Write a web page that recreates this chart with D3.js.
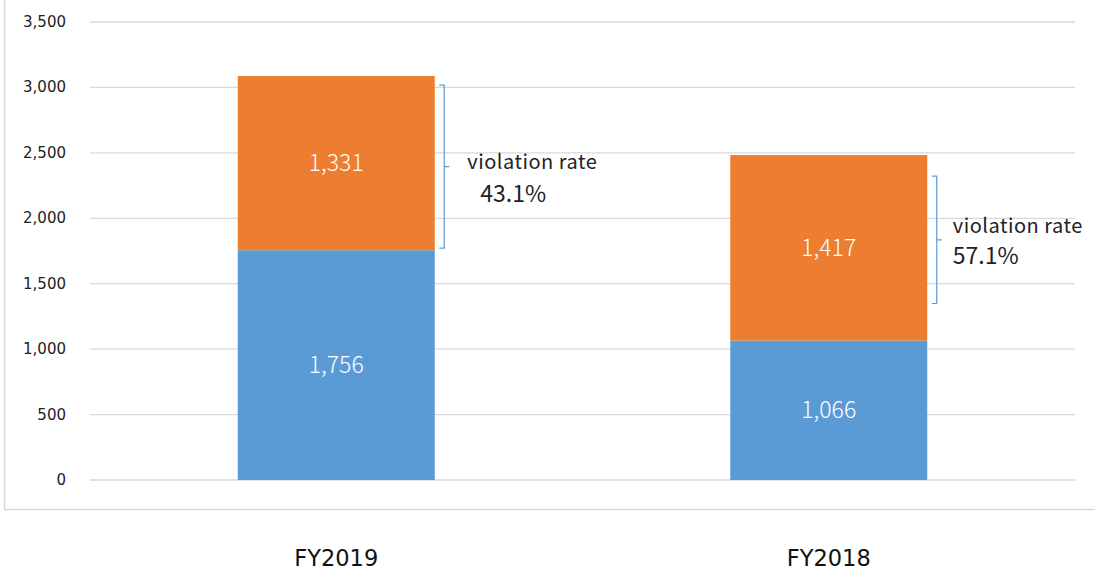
<html>
<head>
<script src="https://d3js.org/d3.v7.min.js"></script>
<style>
body { margin: 0; background: #fff; }
</style>
</head>
<body>
<script>
const years = ["FY2019", "FY2018"];
const compliant = [1756, 1066];
const violations = [1331, 1417];
const rates = ["43.1%", "57.1%"];
const yTicks = [0, 500, 1000, 1500, 2000, 2500, 3000, 3500];

const width = 1095, height = 571;
const svg = d3.select("body").append("svg")
    .attr("width", width).attr("height", height);

// chart frame
svg.append("path")
    .attr("d", "M4.5,0 V509.5 H1095")
    .attr("fill", "none")
    .attr("stroke", "#d9d9d9")
    .attr("stroke-width", 1.5);

let x = d3.scaleBand().domain(years).range([90, 1075]).paddingInner(0.6).paddingOuter(0.3);
let y = d3.scaleLinear().domain([0, 3500]).range([480, 22]);

svg.append("g").selectAll("line")
    .data(yTicks)
    .enter().append("line")
    .attr("x1", 90).attr("x2", 1075)
    .attr("y1", d => y(d)).attr("y2", d => y(d))
    .attr("stroke", "#d9d9d9")
    .attr("stroke-width", 1.3);

svg.append("g").selectAll("text")
    .data(yTicks)
    .enter().append("text")
    .attr("x", 66)
    .attr("y", d => y(d) + 5)
    .attr("text-anchor", "end")
    .attr("font-family", "DejaVu Sans")
    .attr("font-size", "15px")
    .attr("fill", "#222")
    .text(d => d3.format(",")(d));

let rows = years.map((k, i) => ({ year: k, a: compliant[i], b: violations[i], rate: rates[i] }));

let bars = svg.append("g").selectAll("g")
    .data(rows)
    .enter().append("g");

bars.append("rect")
    .attr("x", d => x(d.year))
    .attr("width", x.bandwidth())
    .attr("y", d => y(d.a))
    .attr("height", d => y(0) - y(d.a))
    .attr("fill", "#5b9bd5");
bars.append("rect")
    .attr("x", d => x(d.year))
    .attr("width", x.bandwidth())
    .attr("y", d => y(d.a + d.b))
    .attr("height", d => y(d.a) - y(d.a + d.b))
    .attr("fill", "#ed7d31");

bars.append("text")
    .attr("x", d => x(d.year) + x.bandwidth() / 2)
    .attr("y", d => y(d.a / 2) + 8)
    .text(d => d3.format(",")(d.a));
bars.append("text")
    .attr("x", d => x(d.year) + x.bandwidth() / 2)
    .attr("y", d => y(d.a + d.b / 2) + 8)
    .text(d => d3.format(",")(d.b));
bars.selectAll("text")
    .attr("text-anchor", "middle")
    .attr("font-family", "Noto Sans CJK JP")
    .attr("font-weight", 300)
    .attr("font-size", "23px")
    .attr("fill", "#fff");

// category labels
svg.append("g").selectAll("text")
    .data(years)
    .enter().append("text")
    .attr("x", d => x(d) + x.bandwidth() / 2)
    .attr("y", 566)
    .attr("text-anchor", "middle")
    .attr("font-family", "DejaVu Sans")
    .attr("font-size", "22.5px")
    .attr("fill", "#111")
    .text(d => d);

// brackets beside the orange segment
let insets = [[9, 2], [21, 37]];
let textDx = [[23, 36], [16, 16]];
let textDy = [[2.5, 35.5], [-7, 24]];
rows.forEach(function(d, i) {
    let bx = x(d.year) + x.bandwidth() + 9.5;
    let top = y(d.a + d.b) + insets[i][0];
    let bot = y(d.a) - insets[i][1];
    let mid = (top + bot) / 2;
    svg.append("path")
        .attr("d", `M${bx - 5},${top} H${bx} V${bot} H${bx - 5} M${bx},${mid} H${bx + 5}`)
        .attr("fill", "none")
        .attr("stroke", "#5b9bd5")
        .attr("stroke-width", 1.2);
    svg.append("text")
        .attr("x", bx + textDx[i][0])
        .attr("y", mid + textDy[i][0])
        .attr("font-family", "Noto Sans CJK JP")
        .attr("font-size", "20px")
        .attr("letter-spacing", "0.5px")
        .attr("fill", "#222")
        .text("violation rate");
    svg.append("text")
        .attr("x", bx + textDx[i][1])
        .attr("y", mid + textDy[i][1])
        .attr("font-family", "Noto Sans CJK JP")
        .attr("font-size", "23px")
        .attr("fill", "#222")
        .text(d.rate);
});
</script>
</body>
</html>
